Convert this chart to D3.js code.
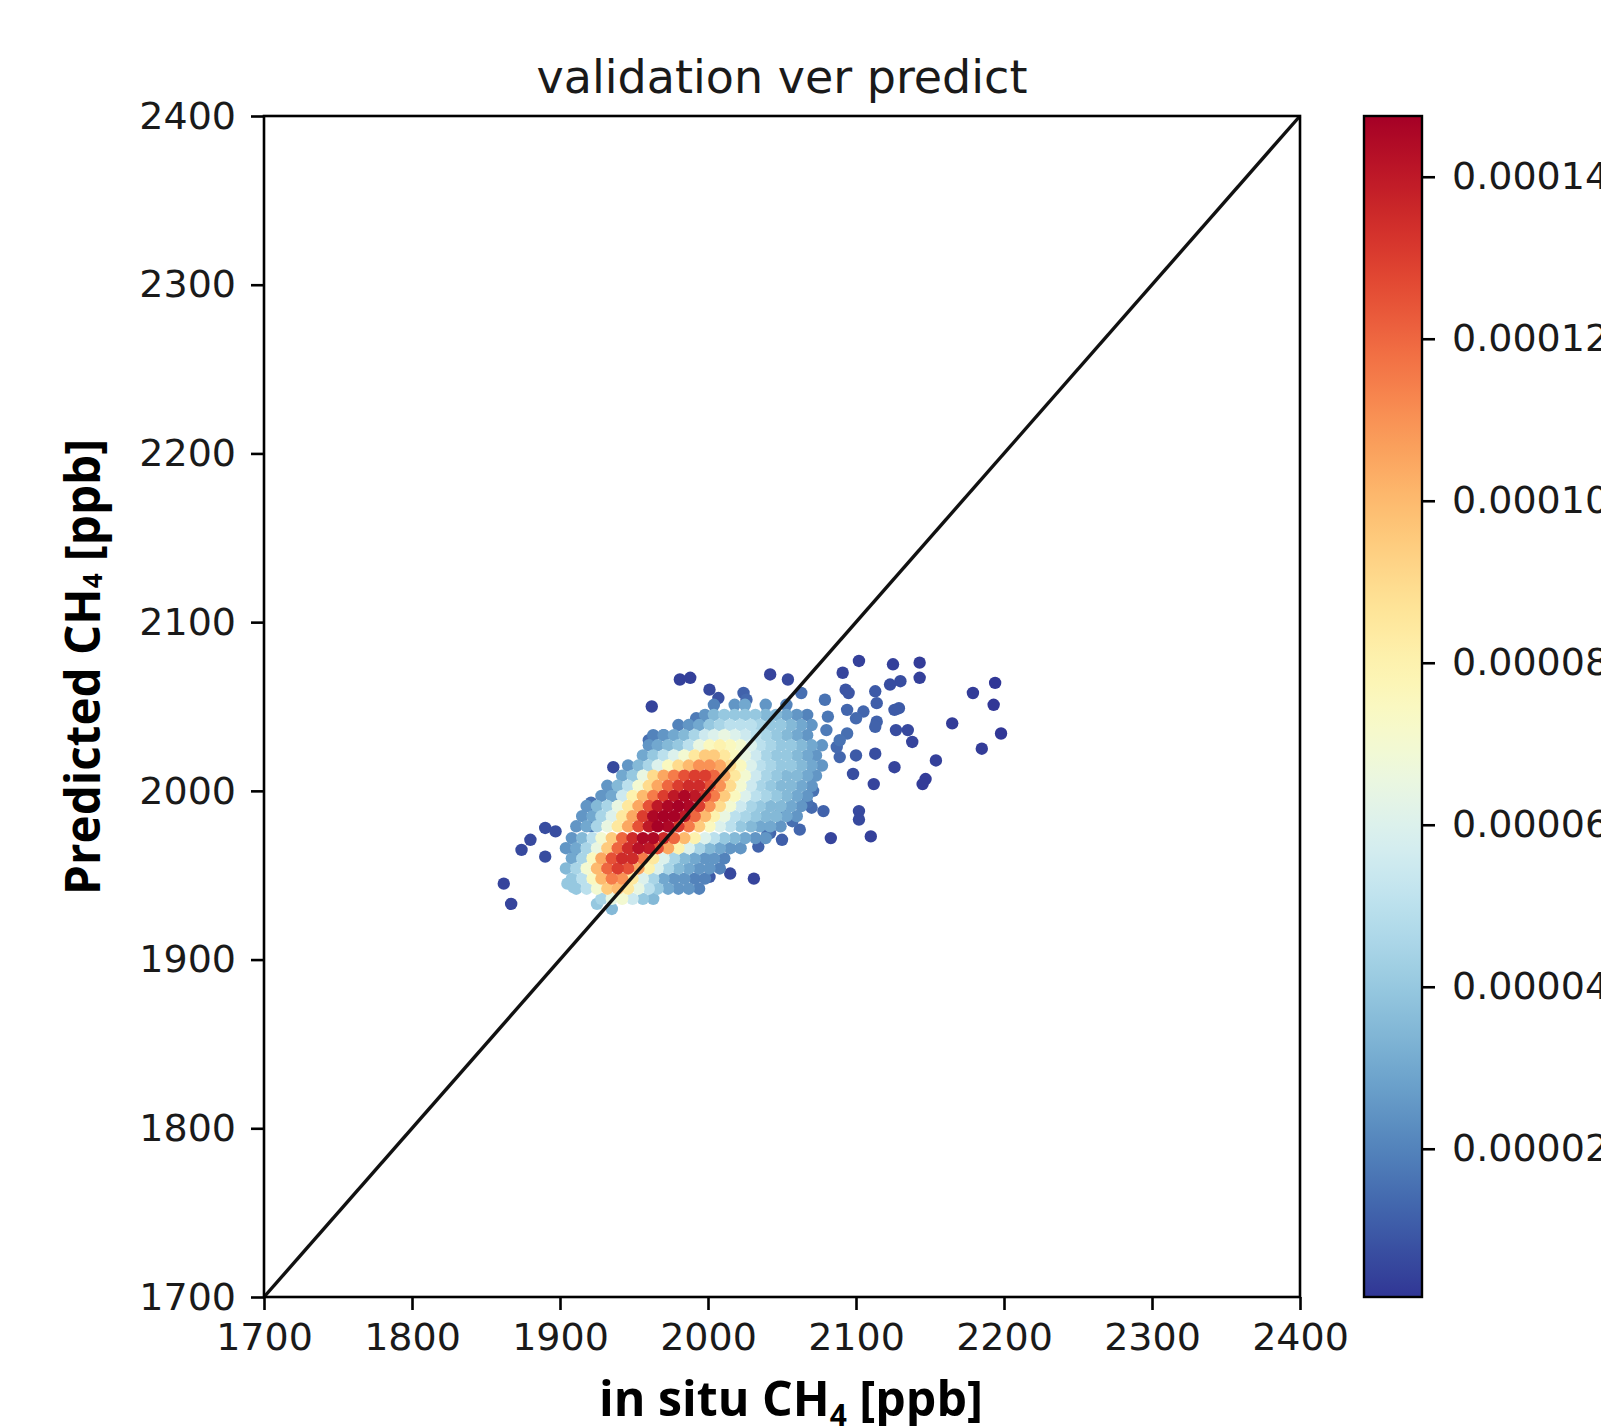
<!DOCTYPE html>
<html><head><meta charset="utf-8">
<script src="https://cdn.jsdelivr.net/npm/d3@7"></script>
<style>html,body{margin:0;padding:0;background:#fff;overflow:hidden} svg{display:block}</style>
</head><body>
<svg id="c" width="1601" height="1426"></svg>
<script>
// ---------------- data ----------------
const xTicks = [1700, 1800, 1900, 2000, 2100, 2200, 2300, 2400];
const yTicks = [1700, 1800, 1900, 2000, 2100, 2200, 2300, 2400];
const colorTicks = [0.00002, 0.00004, 0.00006, 0.00008, 0.00010, 0.00012, 0.00014];
const densityRange = [0.17, 14.75]; // point density, units of 1e-5
const diagonal = [[1700, 1700], [2400, 2400]];

// dense core, rows of [in situ x, density(1e-5)] at a given predicted y
const coreRows = [
 {y:2051,pts:[[2004,2],[2018,2.5],[2025,3],[2039,2.5],[2053,2]]},
 {y:2045,pts:[[1998,2.5],[2004,3.5],[2011,4],[2018,4],[2025,4],[2032,4],[2039,3.5],[2046,3.5],[2053,3],[2060,2.5],[2067,2]]},
 {y:2039,pts:[[1980,2],[1987,2.5],[1994,3],[2001,4],[2008,4.5],[2015,5],[2022,5],[2029,5],[2035,4.5],[2042,4],[2049,4],[2056,3.5],[2063,3],[2070,2.5]]},
 {y:2033,pts:[[1963,2],[1970,2.5],[1977,3],[1984,3.5],[1991,4.5],[1998,5.5],[2004,6],[2011,6.5],[2018,6],[2025,5.5],[2032,5],[2039,4.5],[2046,4],[2053,3.5],[2060,3],[2067,2.5]]},
 {y:2027,pts:[[1960,2.5],[1966,3],[1973,3.5],[1980,4],[1987,5],[1994,6.5],[2001,7.5],[2008,8],[2015,7.5],[2022,7],[2029,6],[2035,5],[2042,4.5],[2049,4],[2056,4],[2063,3.5],[2070,3],[2077,2.5]]},
 {y:2021,pts:[[1956,3],[1963,4],[1970,5],[1977,6],[1984,7],[1991,8.5],[1998,9.5],[2004,9.5],[2011,8.5],[2018,7.5],[2025,6.5],[2032,5.5],[2039,4.5],[2046,4],[2053,4],[2060,3.5],[2067,3],[2073,2.5]]},
 {y:2015,pts:[[1946,2.5],[1953,3.5],[1960,4.5],[1966,6],[1973,7.5],[1980,9],[1987,10],[1994,11],[2001,11],[2008,10.5],[2015,9],[2022,7.5],[2029,6],[2035,5],[2042,4.5],[2049,4],[2056,4],[2063,3.5],[2070,3],[2077,2.5]]},
 {y:2009,pts:[[1942,3],[1949,4],[1956,6.5],[1963,9],[1970,10.5],[1977,11.5],[1984,12.5],[1991,13],[1998,13],[2004,12],[2011,10.5],[2018,8.5],[2025,7],[2032,5.5],[2039,4.5],[2046,4],[2053,3.5],[2060,3.5],[2067,3],[2073,2.5]]},
 {y:2003,pts:[[1932,2.5],[1939,3.5],[1946,5],[1953,7],[1960,9],[1966,10.5],[1973,12],[1980,13],[1987,13.5],[1994,13.5],[2001,12.5],[2008,11],[2015,9],[2022,7],[2029,5.5],[2035,4.5],[2042,4],[2049,3.5],[2056,3.5],[2063,3],[2070,2.5]]},
 {y:1997,pts:[[1928,2.5],[1935,3],[1942,5.5],[1949,8],[1956,10],[1963,11.5],[1970,13],[1977,14],[1984,14.5],[1991,14],[1998,13],[2004,11.5],[2011,9.5],[2018,7.5],[2025,6],[2032,5],[2039,4.5],[2046,4],[2053,3.5],[2060,3],[2067,2.5]]},
 {y:1991,pts:[[1918,2.5],[1925,3.5],[1932,4.5],[1939,6.5],[1946,8.5],[1953,10.5],[1960,12.5],[1966,14],[1973,14.5],[1980,14.7],[1987,14.5],[1994,13],[2001,11],[2008,9],[2015,7],[2022,5.5],[2029,4.5],[2035,4],[2042,3.5],[2049,3.5],[2056,3],[2063,2.5]]},
 {y:1985,pts:[[1915,2.5],[1922,3],[1928,4.5],[1935,6],[1942,8.5],[1949,10.5],[1956,13],[1963,14.5],[1970,14.7],[1977,14.7],[1984,14],[1991,12],[1998,10],[2004,8],[2011,6.5],[2018,5],[2025,4.5],[2032,4],[2039,3.5],[2046,3.5],[2053,3],[2060,2.5]]},
 {y:1979,pts:[[1911,2.5],[1918,3],[1925,4.5],[1932,6.5],[1939,8.5],[1946,10.5],[1953,12.5],[1960,14],[1966,14.7],[1973,14.5],[1980,13],[1987,11.5],[1994,9.5],[2001,7.5],[2008,6],[2015,5],[2022,4],[2029,3.5],[2035,3],[2042,3],[2049,2.5]]},
 {y:1972,pts:[[1908,2.5],[1915,3.5],[1922,5],[1928,7],[1935,9.5],[1942,12],[1949,13.5],[1956,14.5],[1963,14.5],[1970,13.5],[1977,12],[1984,10],[1991,8],[1998,6],[2004,5],[2011,4],[2018,3.5],[2025,3],[2032,2.5],[2039,2.5]]},
 {y:1966,pts:[[1904,2.5],[1911,3],[1918,4.5],[1925,6.5],[1932,9.5],[1939,12],[1946,13.5],[1953,14.2],[1960,14],[1966,12.5],[1973,10.5],[1980,8],[1987,6],[1994,4.5],[2001,3.5],[2008,3],[2015,2.5],[2022,2.5]]},
 {y:1960,pts:[[1908,3],[1915,4.5],[1922,7.5],[1928,10.5],[1935,12.5],[1942,13.5],[1949,13.5],[1956,11.5],[1963,8.5],[1970,6],[1977,4.5],[1984,3.5],[1991,3],[1998,2.5],[2004,2.5],[2011,2]]},
 {y:1954,pts:[[1904,3.5],[1911,4.5],[1918,7],[1925,10],[1932,12],[1939,13],[1946,12.5],[1953,10.5],[1960,8],[1966,6],[1973,4.5],[1980,3.5],[1987,3],[1994,2.5],[2001,2.5],[2008,2]]},
 {y:1948,pts:[[1908,4],[1915,5],[1922,7.5],[1928,10],[1935,11.5],[1942,11],[1949,8.5],[1956,6],[1963,4.5],[1970,3],[1977,2.5],[1984,2.5],[1991,2],[1998,2]]},
 {y:1942,pts:[[1911,4],[1918,5],[1925,7],[1932,9.5],[1939,10],[1946,8.5],[1953,6.5],[1960,5],[1966,4],[1973,3],[1980,2.5],[1987,2.5],[1994,2]]},
 {y:1936,pts:[[1928,4.5],[1935,6.5],[1942,7],[1949,5.5],[1956,4],[1963,3.5]]},
 {y:1930,pts:[[1935,3.5]]}
];

// sparse points around the core: [in situ x, predicted y, density(1e-5)]
const outliers = [
 [1862,1945,0.5],[1867,1933,0.5],[1874,1965,0.6],[1880,1971,0.6],[1890,1961,0.7],[1890,1978,0.7],[1897,1976,0.7],
 [1910,1965,1.8],[1921,1979,1.8],[1919,1991,1.6],[1921,1993,1.6],[1934,2000,2.2],[1936,1997,2.2],[1936,2014,0.6],
 [1950,2009,3.5],[1960,2030,1.5],[1970,2033,1.5],[1962,2050,0.5],[1981,2066,0.4],[1988,2067,0.4],[2001,2060,0.6],
 [2007,2055,0.8],[1992,2043,1.8],[1997,2043,1.8],[2042,2069,0.5],[2054,2066,0.6],[2024,2058,1.2],[2026,2054,1.4],
 [2063,2058,1.5],[2079,2054,1.6],[2091,2070,0.5],[2102,2077,0.4],[2125,2075,0.4],[2143,2076,0.3],[2143,2067,0.4],
 [2130,2065,0.7],[2123,2063,0.7],[2093,2060,0.9],[2095,2058,0.9],[2113,2059,1.0],[2114,2052,1.1],[2105,2047,1.3],
 [2100,2043,1.4],[2094,2048,1.3],[2129,2049,1.0],[2126,2048,1.0],[2114,2041,1.2],[2113,2038,1.2],[2127,2036,0.7],
 [2135,2036,0.6],[2138,2029,0.5],[2094,2034,1.5],[2089,2030,1.6],[2081,2044,1.7],[2080,2036,1.8],[2087,2026,1.4],
 [2089,2020,1.3],[2100,2021,1.0],[2113,2022,0.7],[2126,2014,0.5],[2154,2018,0.4],[2098,2010,0.7],[2112,2004,0.5],
 [2147,2007,0.3],[2145,2004,0.3],[2165,2040,0.3],[2179,2058,0.3],[2194,2064,0.2],[2193,2051,0.2],[2198,2034,0.2],
 [2185,2025,0.3],[2071,2000,1.6],[2067,1993,1.5],[2070,1990,1.4],[2078,1988,1.2],[2102,1988,0.6],[2102,1983,0.6],
 [2083,1972,0.5],[2110,1973,0.4],[2049,1987,1.7],[2057,1982,1.5],[2062,1977,1.3],[2042,1975,1.3],[2050,1971,1.1],
 [2034,1967,1.2],[2015,1951,0.6],[2031,1948,0.5],[2001,1949,1.0],[2040,1974,1.5],[1905,1945,4],[1909,1943,4],[1925,1933,4]
];

// ---------------- chart ----------------
const L = 264, R = 1300, T = 116, B = 1297;
const CB = {x0: 1364, x1: 1422};
const svg = d3.select("#c");
const x = d3.scaleLinear().domain([1700, 2400]).range([L, R]);
const y = d3.scaleLinear().domain([1700, 2400]).range([B, T]);
const cmap = t => d3.interpolateRdYlBu(1 - t);
const color = d3.scaleSequential(cmap).domain(densityRange);
const cScale = d3.scaleLinear().domain([densityRange[0] * 1e-5, densityRange[1] * 1e-5]).range([B, T]);

const tickFont = "'DejaVu Sans', sans-serif";
const tickSize = 38;
const txtColor = "#1a1a1a";

// points (sorted so densest on top)
const points = [];
coreRows.forEach(r => r.pts.forEach(([px, d]) => points.push({x: px, y: r.y, d})));
outliers.forEach(([px, py, d]) => points.push({x: px, y: py, d}));
points.sort((a, b) => a.d - b.d);

svg.append("defs").append("clipPath").attr("id", "plotclip")
  .append("rect").attr("x", L).attr("y", T).attr("width", R - L).attr("height", B - T);

svg.append("g").attr("clip-path", "url(#plotclip)")
  .selectAll("circle").data(points).join("circle")
  .attr("cx", d => x(d.x)).attr("cy", d => y(d.y)).attr("r", 6.2)
  .attr("fill", d => color(d.d));

// diagonal 1:1 line
svg.append("path")
  .attr("d", d3.line().x(d => x(d[0])).y(d => y(d[1]))(diagonal))
  .attr("stroke", "#111").attr("stroke-width", 3.4).attr("fill", "none");

// frame
svg.append("rect").attr("x", L).attr("y", T).attr("width", R - L).attr("height", B - T)
  .attr("fill", "none").attr("stroke", "#000").attr("stroke-width", 2.6);

function styleAxis(g) {
  g.select(".domain").remove();
  g.selectAll(".tick line").attr("stroke", "#000").attr("stroke-width", 2.6);
  g.selectAll(".tick text").attr("fill", txtColor).style("font-family", tickFont).style("font-size", tickSize + "px");
}

svg.append("g").attr("transform", `translate(0,${B})`)
  .call(d3.axisBottom(x).tickValues(xTicks).tickFormat(d3.format("d")).tickSize(13).tickPadding(13))
  .call(styleAxis);

svg.append("g").attr("transform", `translate(${L},0)`)
  .call(d3.axisLeft(y).tickValues(yTicks).tickFormat(d3.format("d")).tickSize(13).tickPadding(15))
  .call(styleAxis);

// colorbar
const grad = svg.select("defs").append("linearGradient").attr("id", "cbgrad")
  .attr("x1", 0).attr("y1", 1).attr("x2", 0).attr("y2", 0);
d3.range(0, 1.0001, 0.02).forEach(t => grad.append("stop").attr("offset", t).attr("stop-color", cmap(t)));
svg.append("rect").attr("x", CB.x0).attr("y", T).attr("width", CB.x1 - CB.x0).attr("height", B - T)
  .attr("fill", "url(#cbgrad)").attr("stroke", "#000").attr("stroke-width", 2.4);
svg.append("g").attr("transform", `translate(${CB.x1},0)`)
  .call(d3.axisRight(cScale).tickValues(colorTicks).tickFormat(d3.format(".5f")).tickSize(13).tickPadding(17))
  .call(styleAxis);

// title
svg.append("text").attr("x", (L + R) / 2).attr("y", 93).attr("text-anchor", "middle")
  .style("font-family", tickFont).style("font-size", "46px").attr("fill", txtColor)
  .text("validation ver predict");

// axis labels
const labFont = "'Open Sans', 'Noto Sans', sans-serif";
function fitLabel(t, target) {
  const len = t.node().getComputedTextLength();
  const fs = parseFloat(t.style("font-size"));
  t.style("font-size", (fs * target / len) + "px");
}
const xl = svg.append("text").attr("x", 791).attr("y", 1416).attr("text-anchor", "middle")
  .style("font-family", labFont).style("font-weight", 700).style("font-size", "48px").attr("fill", "#000");
xl.append("tspan").text("in situ CH");
xl.append("tspan").text("4").style("font-size", "0.62em").attr("dy", "0.32em");
xl.append("tspan").text(" [ppb]").attr("dy", "-0.2em");
fitLabel(xl, 384);

const yl = svg.append("text").attr("transform", "translate(100,667) rotate(-90)").attr("text-anchor", "middle")
  .style("font-family", labFont).style("font-weight", 700).style("font-size", "48px").attr("fill", "#000");
yl.append("tspan").text("Predicted CH");
yl.append("tspan").text("4").style("font-size", "0.55em").attr("dy", "0.08em");
yl.append("tspan").text(" [ppb]").attr("dy", "-0.044em");
fitLabel(yl, 456);
</script>
</body></html>
